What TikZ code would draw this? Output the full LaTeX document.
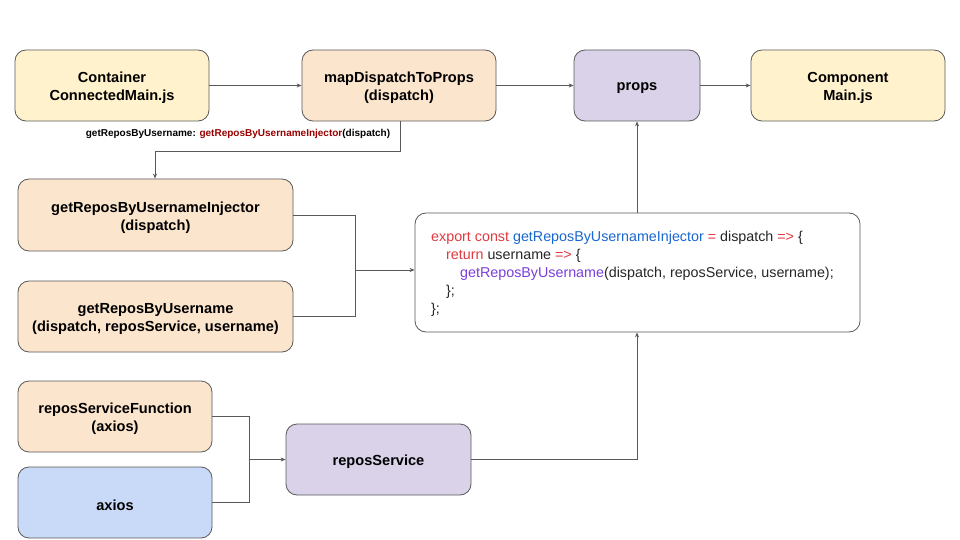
\documentclass[tikz,border=0pt]{standalone}
\usepackage{fontspec}
\setmainfont{Liberation Sans}
\usetikzlibrary{arrows.meta}
\definecolor{cyel}{HTML}{FFF2CC}
\definecolor{corg}{HTML}{FCE5CD}
\definecolor{cpur}{HTML}{D9D2E9}
\definecolor{cblu}{HTML}{C9DAF8}
\definecolor{cedge}{HTML}{595959}
\definecolor{kred}{HTML}{E0393E}
\definecolor{kblue}{HTML}{1967D2}
\definecolor{kpur}{HTML}{7B3FDB}
\definecolor{kdark}{HTML}{262626}
\definecolor{lred}{HTML}{990000}
\begin{document}
\begin{tikzpicture}[x=1pt,y=-1pt,
  box/.style={draw=cedge, line width=0.8pt, rounded corners=11pt, inner sep=0pt},
  boxtext/.style={align=center, font=\bfseries\fontsize{14.6}{18}\selectfont, inner sep=0pt},
  conn/.style={draw=cedge, line width=0.8pt},
  arr/.style={conn, -{Stealth[length=5pt,width=4pt]}}]
\useasboundingbox (0,0) rectangle (960,540);
\fill[white] (0,0) rectangle (960,540);
\newcommand{\bx}[7]{\node[box, fill=#6, minimum width=#4pt, minimum height=#5pt] (#1) at (#2,#3) {};
  \node[boxtext] (#1t) at ([yshift=-2.5pt]#1.center) {#7};}
\bx{cont}{112}{85.5}{194}{71}{cyel}{Container\\ConnectedMain.js}
\bx{mdp}{399}{85.5}{194}{71}{corg}{mapDispatchToProps\\(dispatch)}
\bx{props}{637}{85.5}{126}{71}{cpur}{props}
\bx{comp}{848}{85.5}{194}{71}{cyel}{Component\\Main.js}
\bx{inj}{155.5}{215}{275}{72}{corg}{getReposByUsernameInjector\\(dispatch)}
\bx{grbu}{155.5}{316.5}{275}{71}{corg}{getReposByUsername\\(dispatch, reposService, username)}
\bx{rsf}{115}{416.5}{194}{71}{corg}{reposServiceFunction\\(axios)}
\bx{axios}{115}{502.5}{194}{71}{cblu}{axios}
\bx{rs}{378.5}{459.5}{185}{71}{cpur}{reposService}
\node[box, fill=white, minimum width=445pt, minimum height=119pt] (code) at (637.5,272.5) {};
\begin{scope}[every node/.style={anchor=west, inner sep=0pt, text=kdark, font=\fontsize{14.3}{17}\selectfont}]
\node (c1) at (431,238) {\textcolor{kred}{export const} \textcolor{kblue}{getReposByUsernameInjector} \textcolor{kred}{=} dispatch \textcolor{kred}{=>} \{};
\node (c2) at (446,256) {\textcolor{kred}{return} username \textcolor{kred}{=>} \{};
\node (c3) at (460,274) {\textcolor{kpur}{getReposByUsername}(dispatch, reposService, username);};
\node (c4) at (446,292) {\};};
\node (c5) at (431,310) {\};};
\end{scope}
\draw[arr] (cont.east) -- (mdp.west);
\draw[arr] (mdp.east) -- (props.west);
\draw[arr] (props.east) -- (comp.west);
\coordinate (m1) at (400,151);
\coordinate (m2) at (155,151);
\draw[arr] (mdp.south -| m1) -- (m1) -- (m2) -- (inj.north -| m2);
\node[inner sep=0pt, font=\bfseries\fontsize{10}{12}\selectfont] (lbl) at (238,134) {getReposByUsername: \textcolor{lred}{getReposByUsernameInjector}(dispatch)};
\coordinate (j1) at (355,270);
\draw[conn] (inj.east) -| (j1);
\draw[conn] (grbu.east) -| (j1);
\draw[arr] (j1) -- (code.west |- j1);
\draw[arr] (code.north -| props) -- (props.south);
\coordinate (j2) at (249,459.5);
\draw[conn] (rsf.east) -| (j2);
\draw[conn] (axios.east) -| (j2);
\draw[arr] (j2) -- (rs.west);
\draw[arr] (rs.east) -| (code.south -| props);
\end{tikzpicture}
\end{document}
